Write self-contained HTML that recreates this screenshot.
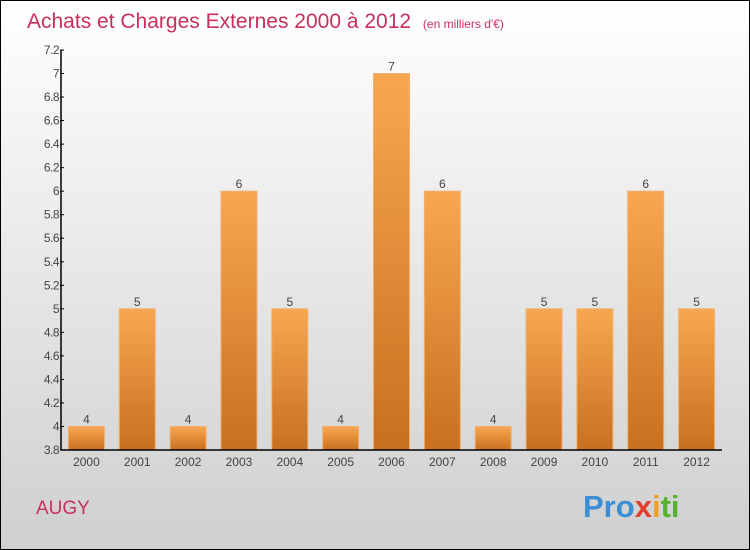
<!DOCTYPE html>
<html><head><meta charset="utf-8"><style>
body{margin:0}
#c{width:750px;height:550px;position:relative;overflow:hidden;box-sizing:border-box;border:1px solid #000;background:linear-gradient(#ffffff,#cfcfcf);font-family:"Liberation Sans",sans-serif}
</style></head><body>
<div id="c">
<svg width="750" height="550" style="position:absolute;left:-1px;top:-1px">
<defs><linearGradient id="g" x1="0" y1="0" x2="0" y2="1"><stop offset="0" stop-color="#f8a751"/><stop offset="1" stop-color="#c8701e"/></linearGradient></defs>
<text x="27" y="28" font-size="21" fill="#c8305a">Achats et Charges Externes 2000 à 2012 <tspan font-size="12" dx="6">(en milliers d'€)</tspan></text>
<text x="36" y="514" font-size="19" fill="#c8305a">AUGY</text>
<text x="583" y="517" font-size="31" font-weight="bold"><tspan fill="#3a8fd6">Pro</tspan><tspan fill="#e0402a">x</tspan><tspan fill="#f0a020">i</tspan><tspan fill="#58b030">ti</tspan></text>
<g id="plot"></g>
</svg>
</div>
<script>
const categories=["2000","2001","2002","2003","2004","2005","2006","2007","2008","2009","2010","2011","2012"];
const values=[4,5,4,6,5,4,7,6,4,5,5,6,5];
const yTicks=[3.8,4,4.2,4.4,4.6,4.8,5,5.2,5.4,5.6,5.8,6,6.2,6.4,6.6,6.8,7,7.2];
const x0=61,x1=722,yTop=50,yBot=450,yMin=3.8,yMax=7.2;
const y=v=>yBot-(v-yMin)/(yMax-yMin)*(yBot-yTop);
const band=(x1-x0)/categories.length;
const xc=i=>x0+band*(i+0.5);
const ns="http://www.w3.org/2000/svg",g=document.getElementById('plot');
function mk(t,a,txt){const e=document.createElementNS(ns,t);for(const k in a)e.setAttribute(k,a[k]);if(txt!=null)e.textContent=txt;g.appendChild(e);return e;}
values.forEach((v,i)=>{
 const b=mk('rect',{x:xc(i)-18,y:y(v),width:36,height:yBot-y(v),fill:'url(#g)',stroke:'#f0b070','stroke-width':1});
 
 
 const l=mk('text',{x:xc(i),y:y(v)-3,'text-anchor':'middle','font-size':12,fill:'#444'},String(v));
 
 
 const c=mk('text',{x:xc(i),y:466,'text-anchor':'middle','font-size':12,fill:'#444'},categories[i]);
 
 
});
yTicks.forEach(t=>{
 const tk=mk('line',{x1:x0-1,x2:x0+3,y1:y(t),y2:y(t),stroke:'#000'});
 
 
 const tl=mk('text',{x:x0-2,y:y(t)+4,'text-anchor':'end','font-size':12,fill:'#444','letter-spacing':'-0.5'},String(t));
 
 
});
const ya=mk('line',{x1:x0,x2:x0,y1:yTop,y2:yBot,stroke:'#000','stroke-width':1.5});


const xa=mk('line',{x1:x0,x2:x1,y1:yBot,y2:yBot,stroke:'#000','stroke-width':1.5});


</script>
</body></html>
